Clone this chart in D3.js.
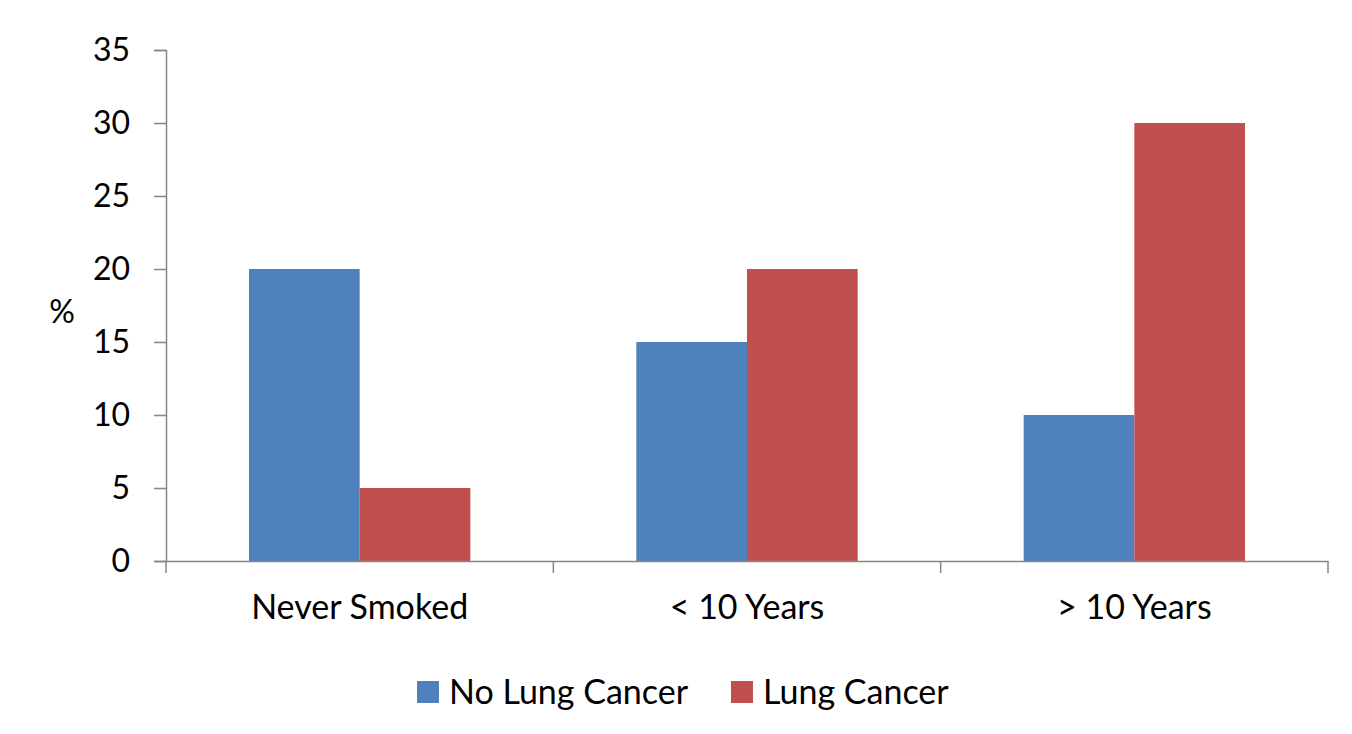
<!DOCTYPE html>
<html>
<head>
<meta charset="utf-8">
<script src="https://cdn.jsdelivr.net/npm/d3@7"></script>
<style>
  body { margin: 0; background: #fff; }
  text { font-family: Lato, "Open Sans", sans-serif; fill: #000; }
</style>
</head>
<body>
<div id="container"></div>
<script>
const categories = ['Never Smoked', '< 10 Years', '> 10 Years'];
const seriesNames = ['No Lung Cancer', 'Lung Cancer'];
const noLungCancer = [20, 15, 10];
const lungCancer = [5, 20, 30];
const yTicks = [0, 5, 10, 15, 20, 25, 30, 35];
const colors = ['#4f81bd', '#c0504d'];

const width = 1352;
const height = 734;
const margin = { left: 166, right: 24, top: 50, bottom: 173 };
const tickFont = 32;
const labelFont = 34;

const svg = d3.select('#container')
  .append('svg')
  .attr('width', width)
  .attr('height', height);

const x = d3.scaleBand()
  .domain(categories)
  .range([margin.left, width - margin.right])
  .paddingInner(0)
  .paddingOuter(0);

const inner = d3.scaleBand()
  .domain(seriesNames)
  .range([0, x.bandwidth()])
  .paddingInner(0)
  .paddingOuter(0.75);

const y = d3.scaleLinear()
  .domain([0, 35])
  .range([height - margin.bottom, margin.top]);

// bars
const rows = categories.map((c, i) => ({ cat: c, vals: [noLungCancer[i], lungCancer[i]] }));
const groups = svg.selectAll('.grp')
  .data(rows)
  .enter()
  .append('g')
  .attr('transform', d => `translate(${x(d.cat)},0)`);

groups.selectAll('rect')
  .data(d => d.vals.map((v, j) => ({ name: seriesNames[j], v, j })))
  .enter()
  .append('rect')
  .attr('x', d => inner(d.name))
  .attr('y', d => y(d.v))
  .attr('width', inner.bandwidth())
  .attr('height', d => y(0) - y(d.v))
  .attr('fill', d => colors[d.j]);

// y axis
const yAxis = svg.append('g')
  .attr('transform', `translate(${margin.left},0)`)
  .call(d3.axisLeft(y).tickValues(yTicks).tickSize(12).tickPadding(24));
yAxis.select('.domain').attr('stroke', '#868686').attr('stroke-width', 1.5);
yAxis.selectAll('.tick line').attr('stroke', '#868686').attr('stroke-width', 1.5);
yAxis.selectAll('.tick text')
  .attr('font-size', tickFont)
  .style('font-family', 'Lato, sans-serif')
  .attr('fill', '#000');

// x axis
const xAxis = svg.append('g')
  .attr('transform', `translate(0,${y(0)})`)
  .call(d3.axisBottom(x).tickSize(0).tickPadding(34));
xAxis.select('.domain').attr('stroke', '#868686').attr('stroke-width', 1.5);
xAxis.selectAll('.tick text')
  .attr('font-size', labelFont)
  .style('font-family', 'Lato, sans-serif')
  .attr('fill', '#000');

// category boundary ticks
const bounds = categories.map(c => x(c)).concat([x(categories[categories.length - 1]) + x.bandwidth()]);
svg.selectAll('.bound')
  .data(bounds)
  .enter()
  .append('line')
  .attr('x1', d => d)
  .attr('x2', d => d)
  .attr('y1', y(0))
  .attr('y2', y(0) + 12)
  .attr('stroke', '#868686')
  .attr('stroke-width', 1.5);

// y title
svg.append('text')
  .attr('x', 62)
  .attr('y', 323)
  .attr('text-anchor', 'middle')
  .attr('font-size', tickFont)
  .text('%');

// legend
const legendItems = [
  { name: seriesNames[0], color: colors[0], x: 417 },
  { name: seriesNames[1], color: colors[1], x: 731 }
];
const lg = svg.selectAll('.legend')
  .data(legendItems)
  .enter()
  .append('g')
  .attr('transform', d => `translate(${d.x},681)`);
lg.append('rect')
  .attr('width', 22)
  .attr('height', 22)
  .attr('fill', d => d.color);
lg.append('text')
  .attr('x', 32)
  .attr('y', 23)
  .attr('font-size', labelFont)
  .text(d => d.name);
</script>
</body>
</html>
